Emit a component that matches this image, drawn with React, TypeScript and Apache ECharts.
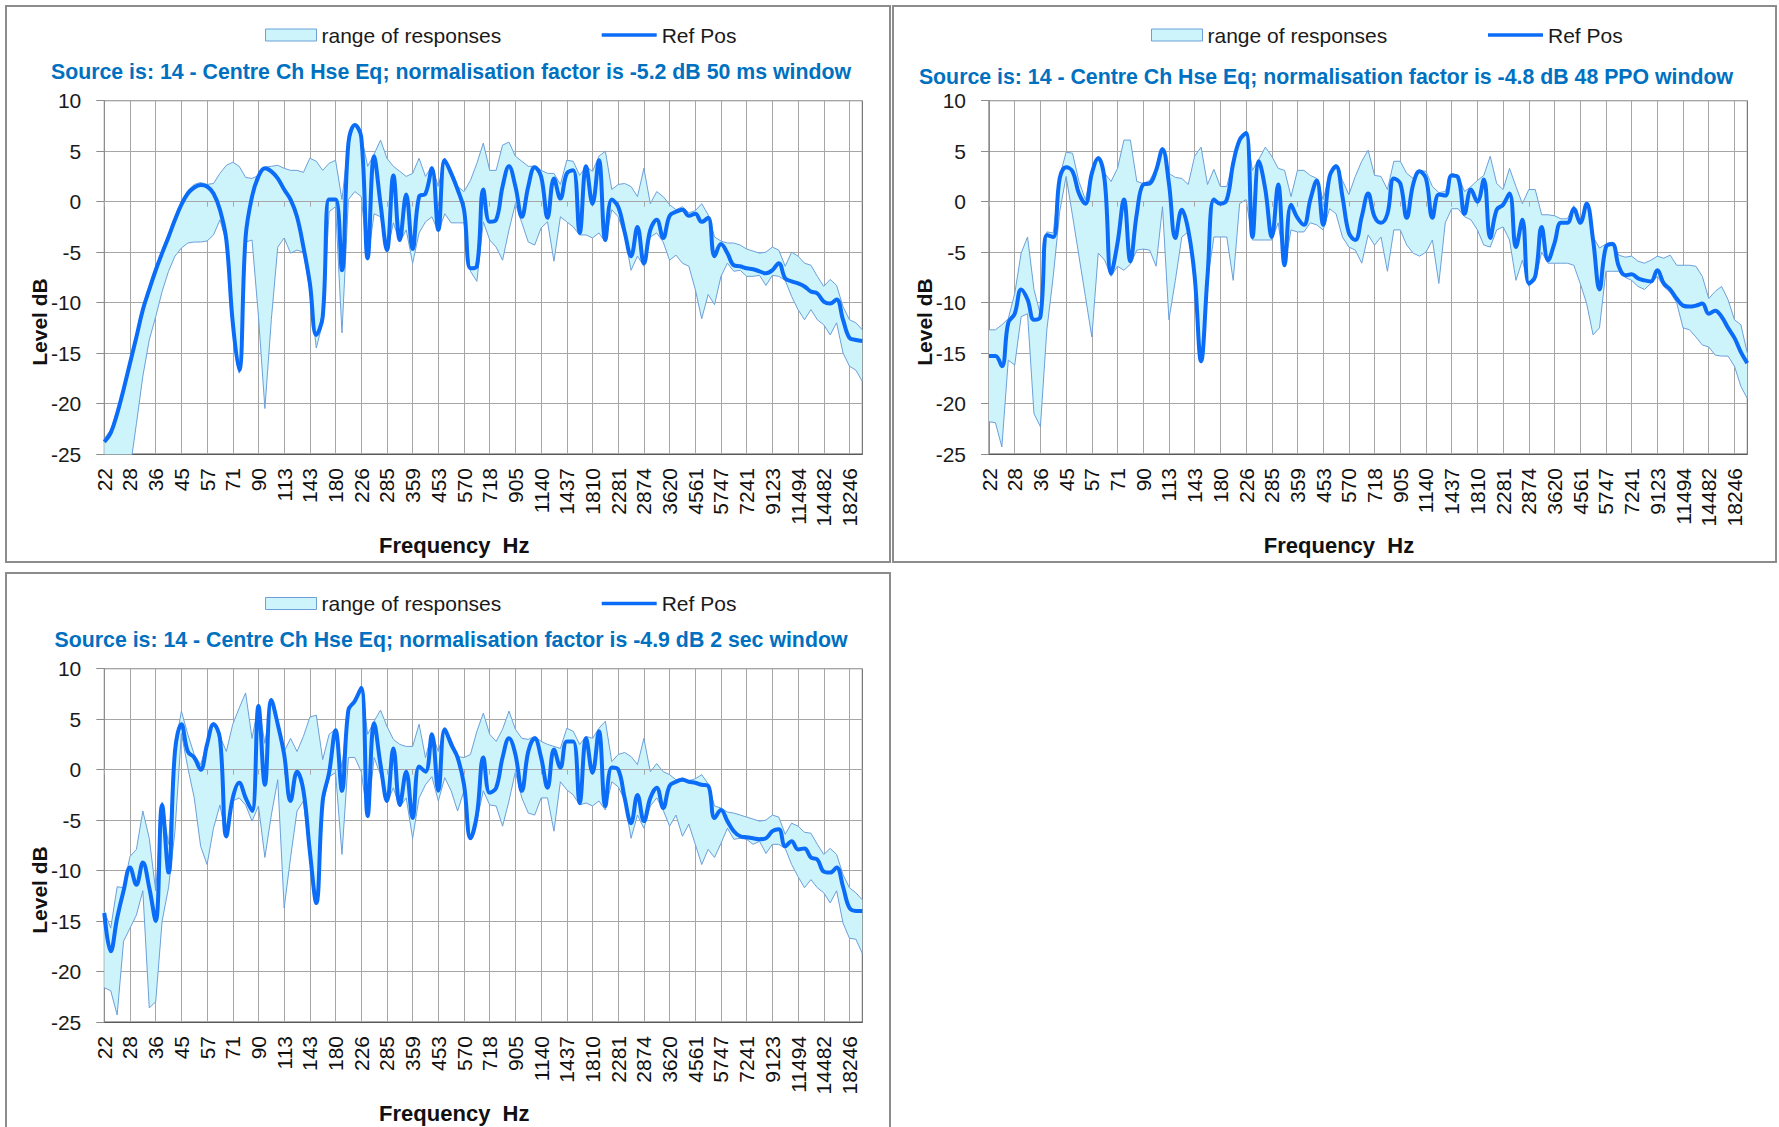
import React, { useEffect, useRef } from "react";
import * as echarts from "echarts";

// ---------- DATA ----------
const X_TICK_LABELS = [
  "22", "28", "36", "45", "57", "71", "90", "113", "143", "180", "226", "285", "359", "453", "570",
  "718", "905", "1140", "1437", "1810", "2281", "2874", "3620", "4561", "5747", "7241", "9123",
  "11494", "14482", "18246",
];
const POINTS_PER_TICK = 4;
const N_POINTS = 119;

const LEGEND_RANGE = "range of responses";
const LEGEND_REF = "Ref Pos";
const X_NAME = "Frequency  Hz";
const Y_NAME = "Level dB";

const TITLE_1 = "Source is: 14 - Centre Ch Hse Eq; normalisation factor is -5.2 dB 50 ms window";
const TITLE_2 = "Source is: 14 - Centre Ch Hse Eq; normalisation factor is -4.8 dB 48 PPO window";
const TITLE_3 = "Source is: 14 - Centre Ch Hse Eq; normalisation factor is -4.9 dB 2 sec window";

// Panel 1 (50 ms window)
const P1_REF = [
  -23.8, -22.9, -21, -18.6, -16, -13.4, -10.7, -8.7, -6.8, -5.1,
  -3.5, -1.8, -0.3, 0.8, 1.4, 1.65, 1.5, 0.8, -0.8, -3.8,
  -12, -16.7, -3.5, 0.5, 2.5, 3.3, 3.0, 2.3, 1.2, 0.2,
  -1.5, -4.5, -8.1, -13.2, -11.4, 0.2, 0.2, -6.8, 5.8, 7.6,
  6.4, -5.6, 4.5, -0.2, -4.8, 2.6, -3.8, 0.7, -4.7, 0.5,
  0.8, 3.3, -2.8, 4.1, 2.8, 1.2, -0.8, -6.6, -6.4, 1.2,
  -2.0, -1.8, 1.5, 3.5, 1.5, -1.5, 1.5, 3.4, 2.5, -1.6,
  2.3, 0.3, 2.8, 3.1, -3.1, 3.5, -0.2, 4.1, -3.8, 0.2,
  -0.5, -3.0, -5.4, -2.5, -6.1, -2.8, -1.8, -3.6, -1.4, -1.0,
  -0.8, -1.4, -1.2, -2.0, -1.6, -5.4, -4.2, -5.1, -6.3, -6.4,
  -6.6, -6.7, -6.9, -7.1, -6.8, -6.1, -7.6, -7.9, -8.1, -8.4,
  -8.9, -9.1, -9.9, -10.1, -9.7, -11.7, -13.5, -13.7, -13.8,
];
const P1_UPPER = [
  -23.5, -22.6, -20.7, -18.3, -15.7, -13.1, -10.4, -8.4, -6.5, -4.8,
  -3.2, -1.5, 0.0, 1.1, 1.7, 1.9, 1.7, 1.8, 2.8, 3.6,
  3.9, 3.5, 2.4, 2.3, 2.6, 3.4, 3.5, 3.6, 3.3, 3.1,
  3.1, 2.9, 4.3, 4.0, 3.1, 3.8, 4.1, 0.2, 5.9, 7.7,
  6.5, 3.5, 4.7, 6.1, 4.3, 3.5, 3.0, 2.5, 2.8, 4.3,
  2.5, 3.5, 1.5, 4.3, 3.1, 1.5, 1.0, 2.1, 3.8, 5.8,
  3.1, 3.1, 5.6, 5.9, 4.5, 4.0, 3.5, 3.5, 3.1, 2.8,
  2.8, 1.7, 4.1, 4.0, 2.6, 3.5, 3.0, 4.5, 5.0, 1.2,
  1.7, 1.8, 1.5, 0.5, 3.3, -0.2, 1.0, 0.5, -0.3, -0.8,
  -0.5, -1.1, -0.9, -0.2, -1.3, -3.5, -3.9, -4.1, -4.1, -4.3,
  -4.7, -4.9, -5.1, -5.0, -4.5, -4.8, -6.4, -5.0, -5.4, -6.1,
  -6.3, -7.4, -8.4, -7.7, -8.3, -10.4, -11.7, -12.0, -12.7,
];
const P1_LOWER = [
  -30, -30, -29, -28, -26.5, -22, -17.3, -13.7, -11.4, -8.9,
  -6.9, -5.4, -4.6, -4.1, -4.0, -4.0, -3.9, -3.3, -1.8, -4.0,
  -12.3, -17.0, -4.0, -3.8, -11.4, -20.5, -11.7, -4.5, -3.6, -5.1,
  -4.8, -5.0, -8.7, -14.5, -12.0, -1.0, -0.5, -13.0, 0.2, 1.0,
  0.5, -5.8, -1.2, -1.5, -5.0, -2.1, -4.0, -2.8, -6.1, -3.1,
  -2.0, -1.5, -3.0, -1.2, -2.1, -2.1, -2.1, -6.9, -7.9, -2.0,
  -3.8, -4.5, -5.8, -2.8, -0.2, -2.1, -4.0, -4.3, -2.6, -2.0,
  -5.9, -1.5, -2.0, -2.5, -3.3, -3.3, -3.6, -3.1, -4.0, -0.8,
  -1.5, -3.3, -6.8, -5.4, -6.4, -3.5, -3.1, -4.0, -5.8, -5.3,
  -6.1, -6.4, -8.7, -11.6, -9.2, -10.2, -7.4, -6.1, -6.9, -6.8,
  -7.4, -7.4, -7.3, -8.3, -7.3, -7.4, -7.8, -9.4, -10.7, -11.7,
  -10.7, -11.7, -12.2, -13.2, -12.0, -15.0, -16.3, -16.7, -17.8,
];

// Panel 2 (48 PPO window)
const P2_REF = [
  -15.3, -15.3, -16.3, -12.0, -11.1, -8.7, -9.7, -11.7, -11.4, -3.3,
  -3.5, 2.3, 3.4, 3.0, 0.8, -0.2, 2.8, 4.3, 2.1, -7.1,
  -4.1, 0.2, -5.9, -1.2, 1.7, 1.8, 3.1, 5.2, 1.8, -3.6,
  -0.8, -2.8, -7.4, -15.8, -7.4, 0.2, -0.2, 0.2, 3.8, 6.1,
  6.8, -3.5, 4.0, 1.2, -3.5, 1.7, -6.3, -0.3, -1.6, -2.3,
  0.2, 2.1, -2.3, 2.5, 3.5, 0.5, -3.1, -3.8, -1.5, 0.8,
  -1.5, -2.1, -1.2, 2.3, 1.8, -1.6, 1.7, 3.0, 2.3, -1.6,
  0.7, 0.6, 2.6, 2.4, -1.2, 1.2, 0, 2.2, -3.6, -0.8,
  -0.3, 0.8, -4.5, -1.8, -8.1, -7.4, -2.5, -5.8, -4.1, -2.1,
  -2.1, -0.7, -2.1, -0.2, -3.8, -8.7, -4.5, -4.2, -6.4, -7.3,
  -7.2, -7.6, -7.8, -7.9, -6.8, -8.1, -8.7, -9.6, -10.3, -10.4,
  -10.3, -10.1, -11.1, -10.8, -11.4, -12.5, -13.5, -14.9, -16.0,
];
const P2_UPPER = [
  -12.7, -12.7, -12.2, -11.6, -9.1, -5.1, -3.5, -8.7, -11.2, -3.0,
  -3.1, 2.5, 4.9, 4.8, 2.0, 0.2, 3.0, 4.5, 2.8, 2.0,
  3.3, 6.1, 6.1, 2.0, 1.8, 2.1, 3.3, 5.4, 2.8, 2.4,
  2.3, 1.7, 4.5, 5.4, 1.7, 3.2, 1.5, 1.5, 4.0, 6.3,
  7.0, 3.1, 4.2, 5.4, 4.5, 3.3, 3.1, 0.5, 3.1, 3.1,
  2.6, 2.3, 0.2, 2.8, 3.7, 2.1, 0.7, 2.5, 4.0, 5.1,
  2.6, 2.5, 1.2, 4.0, 4.0, 2.8, 2.3, 3.1, 3.0, 1.5,
  0.9, 1.0, 2.8, 2.6, 1.0, 1.5, 2.1, 2.6, 4.5, 1.8,
  1.2, 3.3, 1.5, -0.2, 1.2, 1.2, -1.3, -1.3, -1.4, -1.7,
  -1.7, -0.4, -2.0, 0.0, -3.5, -4.6, -4.2, -4.0, -5.3, -5.5,
  -5.4, -5.9, -6.1, -5.8, -5.4, -5.6, -5.3, -6.3, -6.3, -6.3,
  -6.4, -7.4, -9.6, -8.9, -8.4, -9.7, -11.7, -12.2, -15.0,
];
const P2_LOWER = [
  -21.8, -21.9, -24.3, -15.7, -16.2, -11.4, -11.1, -21.0, -22.3, -12.7,
  -7.4, -1.0, 2.5, -1.4, -5.4, -9.4, -13.4, -5.1, -5.8, -7.4,
  -6.4, -6.8, -6.2, -4.8, -4.7, -4.8, -6.4, -0.5, -11.7, -7.8,
  -3.5, -3.0, -7.8, -16.0, -7.8, -3.5, -3.5, -3.5, -7.8, -0.2,
  0.2, -3.8, -3.8, -3.8, -3.8, -2.1, -6.4, -2.8, -3.0, -3.0,
  -2.1, -2.3, -2.8, -0.7, -1.2, -3.5, -4.5, -4.8, -6.1, -3.3,
  -4.3, -3.5, -6.9, -2.8, -2.8, -4.3, -5.1, -5.4, -5.0, -3.8,
  -8.1, -2.1, -0.7, -0.7, -1.5, -1.8, -2.8, -4.3, -4.5, -2.8,
  -2.5, -3.8, -7.8, -5.8, -8.4, -7.8, -5.0, -6.1, -6.1, -6.1,
  -6.1, -6.3, -8.1, -10.1, -13.2, -12.5, -6.9, -6.9, -6.9, -7.5,
  -7.8, -8.4, -8.7, -8.1, -7.4, -8.4, -9.0, -10.0, -12.5, -12.7,
  -13.4, -14.2, -14.4, -15.2, -15.3, -15.3, -16.3, -18.3, -19.5,
];

// Panel 3 (2 sec window)
const P3_REF = [
  -14.2, -18.0, -14.7, -12.0, -9.7, -11.4, -9.2, -11.7, -15.0, -3.5,
  -10.2, 1.8, 4.5, 1.8, 1.2, 0, 2.5, 4.5, 3.1, -6.6,
  -2.8, -1.3, -2.8, -4.1, 6.3, -1.5, 6.9, 4.5, 1.5, -3.1,
  -0.2, -2.1, -8.1, -13.2, -3.1, -0.3, 3.9, -2.1, 5.9, 6.8,
  8.1, -4.6, 4.6, 0.5, -3.1, 2.1, -3.5, -0.2, -4.8, 0.3,
  -0.2, 3.5, -2.1, 4.0, 2.5, 1.2, -1.5, -6.8, -4.5, 1.2,
  -2.3, -1.8, 1.2, 3.1, 1.5, -2.1, 1.8, 3.1, 1.2, -1.8,
  2.0, 0.2, 2.8, 2.8, -3.3, 3.1, -0.3, 3.8, -3.6, 0.2,
  0, -2.8, -5.3, -2.5, -5.1, -2.8, -1.8, -3.8, -1.6, -1.2,
  -1.0, -1.2, -1.3, -1.5, -1.6, -4.8, -4.0, -5.1, -6.1, -6.6,
  -6.7, -6.8, -6.9, -6.8, -6.1, -5.9, -7.6, -7.1, -7.9, -7.8,
  -8.7, -8.9, -10.1, -10.2, -9.7, -11.6, -13.7, -14.0, -14.0,
];
const P3_UPPER = [
  -14.0, -15.7, -11.6, -11.7, -8.6, -7.9, -4.1, -6.8, -12.0, -3.2,
  -7.4, 2.1, 5.8, 3.5, 1.5, 0.5, 2.6, 4.7, 3.3, 1.8,
  4.5, 6.1, 7.6, 3.1, 6.4, 2.6, 7.1, 4.6, 1.8, 3.1,
  1.8, 3.3, 5.2, 5.4, 1.0, 3.5, 4.0, 0.2, 6.1, 6.9,
  8.3, 3.5, 4.8, 5.9, 4.3, 3.0, 2.5, 2.3, 2.3, 4.5,
  1.2, 3.6, 1.8, 4.1, 3.0, 1.3, 1.2, 1.5, 3.8, 5.6,
  3.5, 2.8, 4.0, 5.8, 4.0, 3.1, 3.0, 3.3, 2.8, 2.5,
  2.3, 2.1, 4.1, 3.8, 2.5, 3.3, 3.1, 4.1, 4.8, 0.8,
  1.5, 1.7, 1.3, 0.5, 3.1, -0.2, 0.6, -0.2, -0.5, -1.0,
  -0.8, -1.1, -0.9, -0.5, -1.4, -3.6, -3.8, -4.2, -4.3, -4.5,
  -4.7, -4.9, -5.1, -5.0, -4.5, -4.7, -6.4, -5.3, -5.6, -6.2,
  -6.3, -7.4, -8.4, -7.8, -8.4, -10.4, -11.7, -12.2, -12.9,
];
const P3_LOWER = [
  -21.6, -21.9, -24.3, -17.0, -15.7, -14.4, -12.0, -23.6, -23.0, -15.0,
  -11.7, -6.1, 3.6, 0.2, -2.8, -7.6, -9.4, -5.8, -3.5, -6.8,
  -3.1, -2.8, -3.5, -5.1, -3.6, -8.7, -4.5, -1.0, -13.7, -8.7,
  -4.1, -3.1, -8.7, -13.4, -3.5, -0.7, -0.3, -8.4, 1.2, 1.2,
  -0.2, -4.8, 1.2, -0.5, -3.3, -1.8, -3.7, -2.8, -6.8, -2.8,
  -1.5, -0.7, -3.1, -0.8, -2.1, -4.1, -2.1, -6.9, -5.0, -2.1,
  -3.5, -3.6, -5.6, -3.1, -0.2, -2.8, -4.3, -4.5, -2.8, -2.8,
  -6.1, -1.2, -2.0, -2.5, -3.5, -3.3, -3.6, -3.1, -4.0, -1.2,
  -1.7, -3.0, -6.8, -4.5, -5.8, -3.6, -2.8, -4.0, -5.6, -4.5,
  -6.6, -5.4, -7.4, -9.4, -7.9, -8.7, -7.3, -5.8, -6.9, -6.8,
  -6.9, -7.4, -7.1, -8.3, -7.4, -7.4, -7.8, -9.4, -10.6, -11.7,
  -10.9, -11.7, -12.2, -13.2, -12.0, -15.2, -16.7, -16.8, -18.2,
];

// ---------- STYLE ----------
const FONT = "'Liberation Sans', Arial, sans-serif";
const FILL = "#CCF4FA";
const EDGE = "#6C9FDA";
const REF_COLOR = "#0A6CF7";
const GRID_COLOR = "#A6A6A6";
const FRAME_COLOR = "#595959";
const TITLE_COLOR = "#0070C0";
const TEXT_COLOR = "#111111";

type PanelCfg = {
  ref: number[];
  upper: number[];
  lower: number[];
  title: string;
  box: { left: number; top: number; width: number; height: number };
  grid: { left: number; top: number; width: number; height: number };
  legend: { rangeLeft: number; refLeft: number; top: number };
  titlePos: { x: number; y: number };
};

const PANELS: PanelCfg[] = [
  {
    ref: P1_REF, upper: P1_UPPER, lower: P1_LOWER, title: TITLE_1,
    box: { left: 5, top: 5, width: 886, height: 558 },
    grid: { left: 97.3, top: 93.7, width: 758, height: 353.3 },
    legend: { rangeLeft: 258, refLeft: 594.7, top: 17.5 },
    titlePos: { x: 444, y: 64.5 },
  },
  {
    ref: P2_REF, upper: P2_UPPER, lower: P2_LOWER, title: TITLE_2,
    box: { left: 892, top: 5, width: 885, height: 558 },
    grid: { left: 95, top: 93.7, width: 758.3, height: 353.3 },
    legend: { rangeLeft: 257, refLeft: 594, top: 17.5 },
    titlePos: { x: 432, y: 70.2 },
  },
  {
    ref: P3_REF, upper: P3_UPPER, lower: P3_LOWER, title: TITLE_3,
    box: { left: 5, top: 572, width: 886, height: 570 },
    grid: { left: 97.3, top: 94.7, width: 758, height: 353.3 },
    legend: { rangeLeft: 258, refLeft: 594.7, top: 19 },
    titlePos: { x: 444, y: 66 },
  },
];

function buildOption(cfg: PanelCfg) {
  const categories = Array.from({ length: N_POINTS }, (_, i) => String(i));
  const diff = cfg.upper.map((u, i) => Math.round((u - cfg.lower[i]) * 100) / 100);
  const tickLabel = (_v: string, idx: number) =>
    idx % POINTS_PER_TICK === 0 ? X_TICK_LABELS[idx / POINTS_PER_TICK] ?? "" : "";
  const g = cfg.grid;
  const legendText = { fontSize: 21, color: "#1a1a1a", fontFamily: FONT };

  return {
    animation: false,
    textStyle: { fontFamily: FONT },
    graphic: [
      {
        type: "text",
        x: cfg.titlePos.x,
        y: cfg.titlePos.y,
        silent: true,
        style: {
          text: cfg.title,
          align: "center",
          verticalAlign: "middle",
          fontSize: 21.3,
          fontWeight: "bold",
          fontFamily: FONT,
          fill: TITLE_COLOR,
        },
      },
      {
        type: "text",
        x: g.left - 65,
        y: g.top + 221.3,
        rotation: Math.PI / 2,
        silent: true,
        style: {
          text: Y_NAME,
          align: "center",
          verticalAlign: "middle",
          fontSize: 21,
          fontWeight: "bold",
          fontFamily: FONT,
          fill: TEXT_COLOR,
        },
      },
      {
        type: "text",
        x: g.left + 350,
        y: g.top + g.height + 91,
        silent: true,
        style: {
          text: X_NAME,
          align: "center",
          verticalAlign: "middle",
          fontSize: 22,
          fontWeight: "bold",
          fontFamily: FONT,
          fill: TEXT_COLOR,
        },
      },
    ],
    legend: [
      {
        left: cfg.legend.rangeLeft,
        top: cfg.legend.top,
        padding: 0,
        itemWidth: 51,
        itemHeight: 12,
        itemGap: 5,
        selectedMode: false,
        textStyle: legendText,
        data: [{ name: LEGEND_RANGE, icon: "rect", itemStyle: { color: FILL, borderColor: EDGE, borderWidth: 1 } }],
      },
      {
        left: cfg.legend.refLeft,
        top: cfg.legend.top,
        padding: 0,
        itemWidth: 55,
        itemHeight: 12,
        itemGap: 5,
        selectedMode: false,
        textStyle: legendText,
        data: [{ name: LEGEND_REF, icon: "path://M0,0H60V4H0Z", itemStyle: { color: REF_COLOR, borderWidth: 0 } }],
      },
    ],
    grid: {
      left: g.left,
      top: g.top,
      width: g.width,
      height: g.height,
      show: true,
      borderColor: FRAME_COLOR,
      borderWidth: 1,
      containLabel: false,
    },
    xAxis: [
      {
        type: "category",
        data: categories,
        boundaryGap: false,
        axisLine: { onZero: false, lineStyle: { color: FRAME_COLOR, width: 1 } },
        axisTick: { show: false },
        axisLabel: {
          interval: POINTS_PER_TICK - 1,
          rotate: 90,
          formatter: tickLabel,
          fontSize: 21,
          color: TEXT_COLOR,
          margin: 14,
          fontFamily: FONT,
        },
        splitLine: { show: true, interval: POINTS_PER_TICK - 1, lineStyle: { color: GRID_COLOR, width: 1 } },
      },
      {
        type: "category",
        data: categories,
        boundaryGap: false,
        position: "bottom",
        z: 3,
        axisLine: { onZero: true, lineStyle: { color: GRID_COLOR, width: 1 } },
        axisTick: { show: true, inside: false, interval: POINTS_PER_TICK - 1, length: 5, lineStyle: { color: GRID_COLOR } },
        axisLabel: { show: false },
        splitLine: { show: false },
      },
    ],
    yAxis: {
      type: "value",
      min: -25,
      max: 10,
      interval: 5,
      axisLine: { show: true, lineStyle: { color: "#8C8C8C", width: 1 } },
      axisTick: { show: true, length: 8, lineStyle: { color: "#8C8C8C" } },
      axisLabel: { fontSize: 21, color: "#1a1a1a", margin: 23, fontFamily: FONT },
      splitLine: { show: true, lineStyle: { color: GRID_COLOR, width: 1 } },
    },
    series: [
      {
        name: "lower",
        type: "line",
        data: cfg.lower,
        stack: "band",
        stackStrategy: "all",
        symbol: "none",
        silent: true,
        z: 2,
        lineStyle: { width: 1, color: EDGE },
      },
      {
        name: LEGEND_RANGE,
        type: "line",
        data: diff,
        stack: "band",
        stackStrategy: "all",
        symbol: "none",
        silent: true,
        z: 1,
        lineStyle: { width: 1, color: EDGE },
        itemStyle: { color: FILL },
        areaStyle: { color: FILL, opacity: 1 },
      },
      {
        name: LEGEND_REF,
        type: "line",
        data: cfg.ref,
        symbol: "none",
        smooth: 0.4,
        silent: true,
        z: 4,
        lineStyle: { width: 4, color: REF_COLOR },
        itemStyle: { color: REF_COLOR },
      },
    ],
  };
}

function Panel({ cfg }: { cfg: PanelCfg }) {
  const ref = useRef<HTMLDivElement>(null);
  useEffect(() => {
    if (!ref.current) return;
    const chart = echarts.init(ref.current, undefined, { renderer: "svg" });
    chart.setOption(buildOption(cfg) as any);
    return () => chart.dispose();
  }, [cfg]);
  const b = cfg.box;
  return (
    <div
      style={{
        position: "absolute",
        left: b.left,
        top: b.top,
        width: b.width,
        height: b.height,
        border: "2px solid #8C8C8C",
        boxSizing: "border-box",
        background: "#fff",
      }}
    >
      <div ref={ref} style={{ width: b.width - 4, height: b.height - 4 }} />
    </div>
  );
}

export default function App() {
  return (
    <div
      style={{
        position: "fixed",
        left: 0,
        top: 0,
        width: 1779,
        height: 1127,
        overflow: "hidden",
        background: "#fff",
      }}
    >
      {PANELS.map((p, i) => (
        <Panel key={i} cfg={p} />
      ))}
    </div>
  );
}
